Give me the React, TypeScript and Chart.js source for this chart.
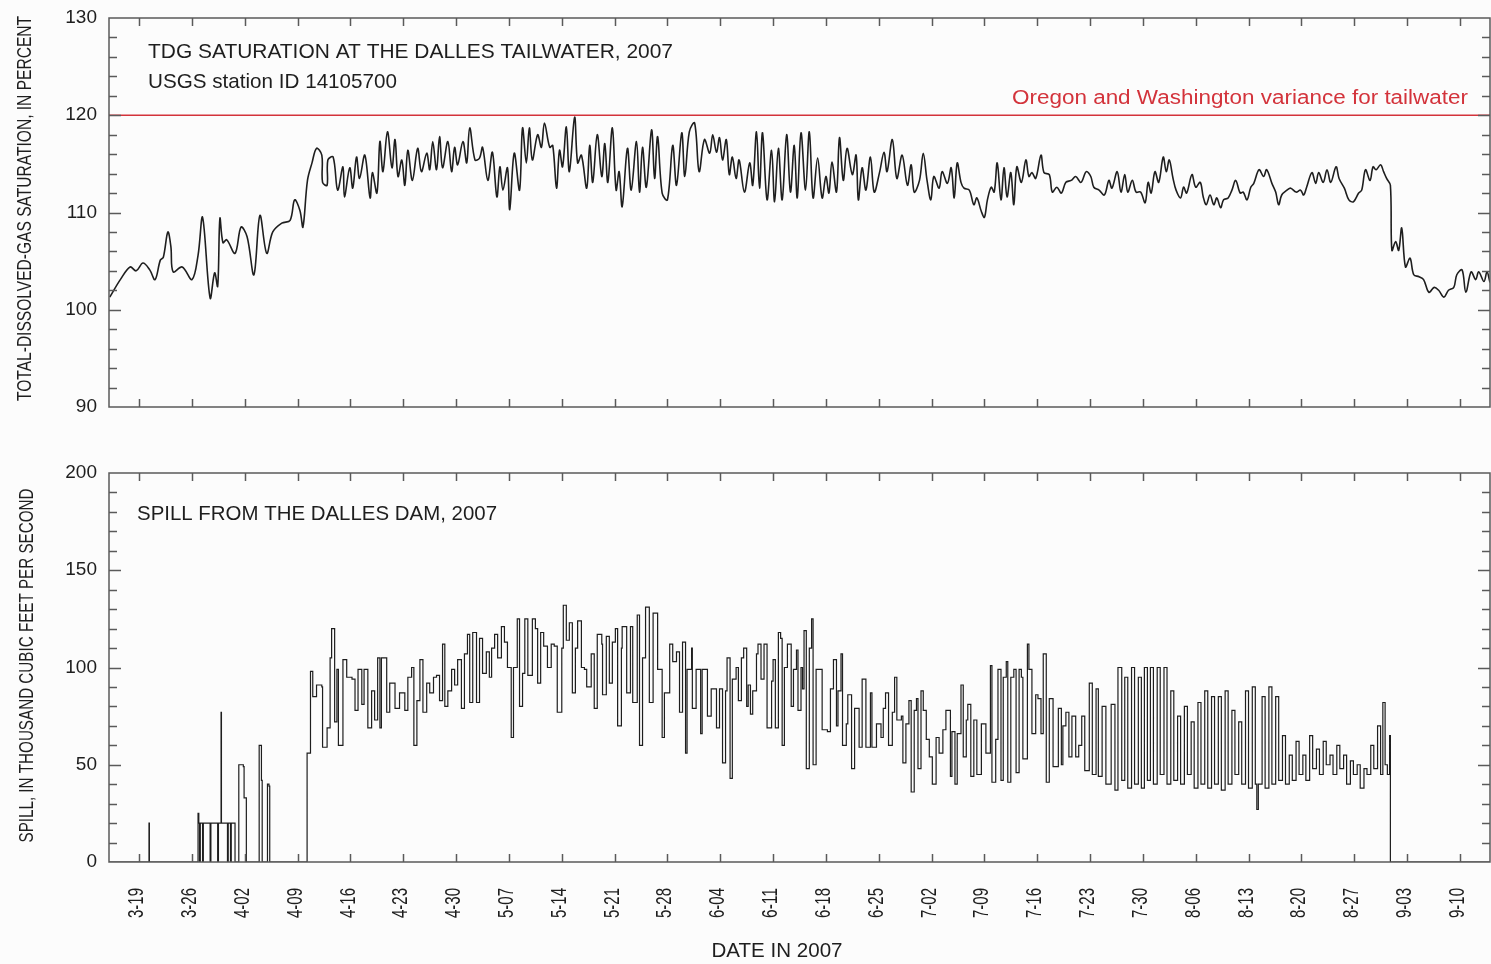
import { useEffect, useRef } from "react";
import { Chart, registerables } from "chart.js";

Chart.register(...registerables);

// ---------- DATA ----------
// x values are days after 2007-03-15 (0 = March 15)
const dateTickDays = [4, 11, 18, 25, 32, 39, 46, 53, 60, 67, 74, 81, 88, 95, 102, 109, 116, 123, 130, 137, 144, 151, 158, 165, 172, 179];
const dateTickLabels = ["3-19", "3-26", "4-02", "4-09", "4-16", "4-23", "4-30", "5-07", "5-14", "5-21", "5-28", "6-04", "6-11", "6-18", "6-25", "7-02", "7-09", "7-16", "7-23", "7-30", "8-06", "8-13", "8-20", "8-27", "9-03", "9-10"];
const dayMin = 0;
const dayMax = 183;

const tdgRange = [90, 130];
const tdgLabelStep = 10;
const tdgMinorStep = 2;
const spillRange = [0, 200];
const spillLabelStep = 50;
const spillMinorStep = 10;

const varianceLimit = 120;

// total-dissolved-gas saturation, percent: [day, value]
const tdgSeries: [number, number][] = [
  [0.1, 101.3], [1.5, 103.1], [2.8, 104.4], [3.6, 104.0], [4.5, 104.8], [5.4, 104.1], [6.1, 103.1], [6.8, 105.1], [7.2, 105.4], [7.8, 108.0], [8.2, 106.5], [8.5, 103.9],
  [9.7, 104.4], [11.0, 103.1], [11.8, 105.6], [12.4, 109.5], [13.4, 101.2], [14.0, 103.8], [14.4, 102.4], [14.7, 109.4], [15.1, 106.9], [15.6, 107.2],
  [16.7, 105.8], [17.5, 108.5], [18.3, 107.5], [19.2, 103.6], [20.0, 109.7], [20.9, 105.8], [21.7, 108.0], [22.9, 108.9], [24.0, 109.2], [24.6, 111.3],
  [25.3, 110.2], [25.7, 108.5], [26.3, 113.3], [26.9, 115.1], [27.5, 116.6], [28.2, 115.9], [28.3, 113.1], [28.9, 112.8], [29.0, 115.4], [29.7, 115.7],
  [30.3, 112.3], [31.0, 114.7], [31.2, 111.6], [31.9, 114.6], [32.3, 112.5], [32.8, 115.7], [33.2, 113.5], [33.9, 115.9], [34.6, 111.5], [34.9, 114.1],
  [35.5, 112.0], [35.9, 117.3], [36.3, 114.2], [36.9, 118.3], [37.5, 114.6], [37.9, 117.5], [38.3, 113.7], [38.8, 115.4], [39.2, 112.8], [39.6, 116.4],
  [40.2, 113.3], [40.9, 116.6], [41.4, 114.2], [42.1, 116.1], [42.5, 114.4], [42.9, 117.3], [43.4, 114.4], [43.8, 117.8], [44.2, 114.6], [44.9, 117.3],
  [45.4, 114.2], [45.8, 116.7], [46.2, 114.9], [46.9, 117.3], [47.4, 115.1], [47.8, 118.7], [48.5, 115.4], [49.1, 115.6], [49.5, 116.7], [50.2, 113.3],
  [50.8, 116.2], [51.4, 111.6], [51.8, 114.7], [52.2, 112.3], [52.8, 114.6], [53.1, 110.3], [53.7, 116.1], [54.4, 112.3], [54.8, 118.7], [55.3, 115.1],
  [55.7, 118.7], [56.1, 115.4], [56.8, 118.0], [57.3, 116.7], [57.7, 119.2], [58.4, 116.7], [58.8, 116.9], [59.3, 112.5], [59.7, 116.4], [60.1, 114.7],
  [60.6, 118.8], [61.0, 114.2], [61.7, 119.8], [62.1, 115.1], [62.6, 115.9], [63.3, 112.5], [63.7, 116.9], [64.1, 113.1], [64.7, 118.0], [65.3, 113.7],
  [65.7, 117.1], [66.1, 113.1], [66.7, 118.7], [67.2, 112.3], [67.6, 114.2], [68.0, 110.6], [68.7, 116.6], [69.2, 112.3], [69.9, 117.3], [70.3, 112.1],
  [70.7, 116.7], [71.2, 112.6], [71.9, 118.5], [72.3, 113.5], [72.7, 117.8], [73.3, 112.0], [74.0, 111.3], [74.7, 116.9], [75.2, 112.8], [75.9, 118.2],
  [76.3, 113.7], [76.9, 118.3], [77.6, 119.2], [78.2, 114.2], [78.9, 117.5], [79.6, 116.1], [80.0, 118.0], [80.5, 116.2], [80.9, 117.7], [81.3, 115.4],
  [81.8, 117.5], [82.2, 113.9], [82.6, 115.7], [83.1, 113.5], [83.5, 115.4], [84.2, 112.1], [84.9, 115.1], [85.3, 112.8], [85.8, 118.3], [86.2, 112.5],
  [86.6, 118.2], [87.2, 111.3], [87.8, 116.4], [88.2, 111.1], [88.7, 116.6], [89.2, 111.3], [89.8, 118.0], [90.3, 112.1], [90.8, 116.9], [91.2, 111.5],
  [91.7, 118.2], [92.3, 112.3], [92.8, 118.3], [93.3, 111.5], [93.9, 115.6], [94.5, 111.5], [95.0, 113.7], [95.4, 112.0], [95.8, 115.2], [96.4, 112.1],
  [96.8, 117.7], [97.3, 113.3], [97.8, 116.6], [98.5, 113.9], [99.0, 115.9], [99.3, 111.3], [99.8, 114.6], [100.3, 112.3], [100.9, 115.7], [101.4, 112.1],
  [102.1, 114.1], [102.7, 116.2], [103.1, 114.2], [103.8, 117.5], [104.4, 113.5], [105.1, 115.9], [105.8, 112.8], [106.3, 114.9], [106.7, 112.1], [107.4, 113.3],
  [107.9, 116.1], [108.4, 113.3], [108.9, 111.3], [109.3, 113.7], [110.0, 112.5], [110.4, 114.2], [111.1, 113.0], [111.6, 114.6], [112.0, 111.5], [112.4, 115.1],
  [112.9, 113.1], [113.3, 112.5], [114.0, 112.3], [114.6, 110.8], [115.0, 111.5], [115.6, 110.1], [116.0, 109.5], [116.4, 111.3], [116.9, 112.6], [117.3, 112.1],
  [117.7, 115.1], [118.2, 111.3], [118.6, 114.6], [119.0, 111.6], [119.5, 114.1], [119.9, 110.8], [120.3, 114.7], [120.9, 113.1], [121.5, 115.4], [121.9, 113.7],
  [122.3, 114.1], [122.8, 113.5], [123.5, 115.9], [123.9, 114.1], [124.6, 113.9], [125.0, 112.1], [125.6, 112.6], [126.2, 112.0], [126.8, 113.1], [127.5, 113.3],
  [128.1, 113.7], [128.8, 113.1], [129.5, 114.2], [130.1, 113.7], [130.5, 112.6], [131.2, 112.3], [131.9, 111.8], [132.5, 113.3], [132.9, 112.5], [133.6, 114.2],
  [134.1, 112.1], [134.6, 113.9], [135.0, 112.1], [135.6, 113.3], [136.1, 112.1], [136.7, 112.1], [137.3, 111.0], [137.7, 113.1], [138.1, 112.0], [138.6, 114.2],
  [139.1, 113.1], [139.7, 115.7], [140.1, 114.2], [140.5, 115.4], [141.0, 113.5], [141.4, 112.3], [142.0, 111.5], [142.4, 112.6], [142.8, 112.0], [143.5, 113.9],
  [144.0, 112.6], [144.6, 113.1], [145.0, 111.6], [145.4, 110.8], [145.9, 111.8], [146.4, 110.8], [146.8, 111.5], [147.3, 110.5], [147.7, 111.3], [148.3, 111.5],
  [148.8, 112.3], [149.3, 113.3], [149.9, 112.0], [150.3, 112.1], [150.8, 111.3], [151.3, 112.6], [151.7, 113.0], [152.4, 114.4], [153.0, 113.7], [153.4, 114.4],
  [154.1, 113.0], [154.6, 112.1], [155.0, 110.8], [155.4, 111.8], [156.1, 112.3], [156.6, 112.5], [157.3, 112.1], [157.9, 112.3], [158.3, 111.8], [158.7, 112.6],
  [159.4, 114.1], [159.9, 113.0], [160.3, 114.1], [160.9, 113.1], [161.4, 114.4], [161.9, 113.1], [162.6, 114.7], [163.0, 113.5], [163.7, 112.5], [164.3, 111.3],
  [164.9, 111.1], [165.6, 112.0], [166.0, 112.3], [166.5, 114.4], [167.1, 113.3], [167.5, 114.7], [167.9, 114.4], [168.5, 114.9], [168.9, 114.2], [169.3, 113.5],
  [169.8, 112.8], [170.0, 106.1], [170.5, 107.0], [170.9, 106.1], [171.3, 108.4], [171.8, 104.4], [172.4, 105.3], [172.9, 103.6], [173.6, 103.4], [174.2, 103.1],
  [174.9, 101.8], [175.6, 102.3], [176.2, 102.0], [176.9, 101.3], [177.5, 102.0], [178.2, 102.3], [178.6, 103.6], [179.3, 104.1], [179.8, 101.8], [180.5, 103.9],
  [181.1, 103.1], [181.5, 103.9], [182.2, 102.9], [182.6, 103.9], [183.0, 102.8],
];

// spill, thousand cubic feet per second: [day, value]
const spillSeries: [number, number][] = [
  [0, 0], [5.25, 0], [5.3, 20], [5.35, 0], [11.7, 0], [11.8, 25], [11.9, 20], [12.0, 0], [12.1, 20], [12.3, 20], [12.4, 0], [12.5, 20], [13.3, 20], [13.4, 0],
  [13.5, 20], [14.3, 20], [14.4, 0], [14.5, 20], [14.8, 20], [14.85, 77], [14.9, 20], [15.6, 20], [15.7, 0], [15.8, 20], [16.0, 20], [16.1, 0], [16.2, 20],
  [16.6, 20], [16.7, 0], [17.1, 0], [17.2, 50], [17.8, 49], [17.9, 33], [18.2, 0], [19.8, 0], [19.9, 60], [20.2, 42], [20.3, 0], [20.9, 0], [21.0, 40],
  [21.2, 39], [21.3, 0], [26.2, 0], [26.25, 56], [26.7, 98], [27.0, 85], [27.5, 91], [28.2, 90], [28.3, 59], [28.9, 69], [29.3, 105], [29.5, 120], [29.9, 72],
  [30.2, 99], [30.4, 60], [31.0, 104], [31.5, 95], [32.2, 94], [32.6, 78], [33.0, 99], [33.5, 81], [33.8, 99], [34.3, 69], [34.8, 88], [35.2, 73], [35.6, 105],
  [35.9, 69], [36.1, 105], [36.8, 77], [37.2, 92], [37.9, 79], [38.5, 87], [39.2, 78], [39.6, 95], [40.1, 100], [40.4, 60], [40.8, 83], [41.2, 104], [41.6, 77],
  [42.1, 92], [42.5, 87], [43.0, 95], [43.4, 96], [43.8, 83], [44.2, 112], [44.5, 80], [44.9, 88], [45.4, 99], [45.8, 91], [46.2, 104], [46.7, 79], [47.1, 107],
  [47.5, 117], [47.8, 82], [48.2, 118], [48.7, 82], [49.1, 115], [49.5, 97], [50.0, 108], [50.4, 95], [50.7, 110], [51.1, 117], [51.5, 105], [52.0, 121],
  [52.4, 113], [52.8, 100], [53.3, 64], [53.6, 100], [54.1, 125], [54.4, 80], [54.8, 97], [55.1, 125], [55.5, 96], [56.1, 125], [56.5, 120], [56.8, 92],
  [57.2, 118], [57.6, 111], [58.1, 100], [58.6, 112], [59.0, 111], [59.4, 77], [60.0, 110], [60.2, 132], [60.6, 114], [61.0, 123], [61.4, 87], [61.8, 110],
  [62.1, 124], [62.6, 100], [63.0, 99], [63.3, 90], [63.9, 107], [64.3, 79], [64.7, 117], [65.3, 112], [65.4, 86], [65.9, 116], [66.3, 92], [66.7, 113],
  [67.1, 120], [67.4, 70], [67.9, 110], [68.0, 121], [68.6, 87], [69.1, 121], [69.4, 82], [70.0, 127], [70.3, 60], [70.7, 105], [71.1, 131], [71.6, 82],
  [72.1, 128], [72.7, 99], [73.3, 64], [73.6, 87], [74.3, 112], [74.7, 103], [75.2, 108], [75.6, 77], [76.0, 113], [76.4, 56], [76.6, 99], [77.2, 110],
  [77.3, 79], [77.8, 99], [78.4, 66], [78.6, 99], [79.3, 75], [79.8, 89], [80.5, 69], [80.9, 89], [81.3, 51], [81.7, 88], [81.9, 105], [82.3, 43], [82.6, 94],
  [83.1, 100], [83.4, 83], [83.8, 105], [84.1, 110], [84.5, 80], [84.7, 91], [85.0, 76], [85.3, 88], [85.8, 107], [86.0, 112], [86.4, 94], [86.8, 112],
  [87.2, 69], [87.8, 93], [88.0, 104], [88.3, 69], [88.7, 118], [89.0, 115], [89.2, 60], [89.5, 100], [89.9, 112], [90.4, 80], [90.7, 99], [91.1, 109],
  [91.3, 78], [91.7, 100], [91.9, 89], [92.1, 119], [92.4, 48], [92.8, 110], [93.1, 125], [93.3, 50], [93.7, 99], [94.1, 99], [94.5, 68], [95.2, 67],
  [95.6, 89], [96.0, 104], [96.4, 70], [96.6, 88], [97.0, 107], [97.2, 60], [97.7, 71], [97.9, 86], [98.4, 48], [98.8, 79], [99.4, 59], [99.8, 94], [100.3, 59],
  [100.9, 87], [101.1, 59], [101.7, 71], [102.3, 64], [102.6, 79], [102.9, 87], [103.3, 60], [103.8, 77], [104.1, 95], [104.4, 73], [105.0, 75], [105.2, 51],
  [105.6, 71], [106.0, 83], [106.3, 36], [106.7, 78], [107.0, 84], [107.2, 48], [107.6, 88], [107.9, 78], [108.3, 63], [108.7, 54], [109.1, 40], [109.6, 64],
  [110.0, 56], [110.5, 68], [110.9, 78], [111.5, 44], [111.7, 67], [112.1, 40], [112.4, 66], [112.9, 91], [113.2, 54], [113.6, 73], [113.8, 81], [114.2, 44],
  [114.6, 73], [115.0, 45], [115.6, 71], [116.0, 71], [116.2, 56], [116.8, 101], [117.0, 41], [117.5, 63], [117.8, 99], [118.2, 42], [118.5, 95], [118.9, 103],
  [119.1, 41], [119.5, 95], [119.9, 99], [120.2, 46], [120.6, 99], [120.9, 95], [121.1, 53], [121.7, 112], [121.9, 99], [122.3, 66], [122.8, 86], [123.1, 84],
  [123.5, 66], [123.8, 107], [124.2, 41], [124.6, 84], [125.1, 49], [125.8, 79], [126.2, 50], [126.4, 70], [126.8, 77], [127.2, 54], [127.6, 75], [128.1, 54],
  [128.5, 60], [128.9, 75], [129.3, 47], [129.9, 92], [130.3, 45], [130.8, 89], [131.1, 44], [131.6, 80], [132.1, 40], [132.8, 81], [133.3, 37], [133.7, 100],
  [134.2, 42], [134.6, 95], [135.0, 38], [135.5, 100], [135.9, 40], [136.4, 95], [136.8, 38], [137.2, 100], [137.6, 42], [138.0, 100], [138.4, 40], [138.9, 100],
  [139.3, 45], [139.8, 100], [140.2, 40], [140.7, 88], [141.1, 42], [141.6, 75], [142.0, 40], [142.5, 80], [142.9, 45], [143.4, 72], [143.8, 38], [144.3, 82],
  [144.7, 40], [145.2, 88], [145.6, 38], [146.1, 85], [146.5, 40], [147.0, 85], [147.4, 37], [147.9, 88], [148.3, 40], [148.8, 78], [149.2, 45], [149.7, 72],
  [150.1, 40], [150.6, 88], [151.0, 38], [151.5, 90], [151.9, 40], [152.1, 27], [152.3, 40], [152.8, 85], [153.2, 38], [153.7, 90], [154.1, 40], [154.6, 85],
  [155.0, 42], [155.5, 65], [155.9, 40], [156.4, 55], [156.8, 42], [157.3, 62], [157.7, 45], [158.2, 55], [158.6, 42], [159.1, 65], [159.5, 48], [160.0, 58],
  [160.4, 45], [160.9, 62], [161.3, 50], [161.8, 55], [162.2, 45], [162.7, 60], [163.1, 48], [163.6, 55], [164.0, 40], [164.5, 52], [164.9, 45], [165.4, 50],
  [165.8, 38], [166.3, 48], [166.7, 45], [167.2, 60], [167.6, 48], [168.1, 70], [168.5, 45], [168.8, 82], [169.1, 50], [169.4, 45], [169.7, 65], [169.8, 0],
  [183, 0],
];

// ---------- STYLE ----------
const BG = "#fcfcfc";
const INK = "#1e1e1e";
const AXIS = "#5a5a5a";
const RED = "#d3333b";
const SANS = '"Liberation Sans", Arial, Helvetica, sans-serif';

type TextOpt = { size: number; color?: string; align?: CanvasTextAlign; width?: number; rotate?: boolean };

function drawText(ctx: CanvasRenderingContext2D, text: string, x: number, y: number, o: TextOpt) {
  ctx.save();
  ctx.translate(x, y);
  if (o.rotate) ctx.rotate(-Math.PI / 2);
  ctx.font = `${o.size}px ${SANS}`;
  const w = ctx.measureText(text).width;
  const s = o.width ? o.width / w : 1;
  ctx.scale(s, 1);
  ctx.fillStyle = o.color || INK;
  ctx.textAlign = o.align || "left";
  ctx.textBaseline = "middle";
  ctx.fillText(text, 0, 0);
  ctx.restore();
}

function makeFrame(minorStep: number, labelStep: number, decorate: (chart: any) => void) {
  return {
    id: "frame",
    afterDatasetsDraw(chart: any) {
      const { ctx, chartArea: a, scales } = chart;
      const x = scales.x;
      const y = scales.y;
      ctx.save();
      ctx.strokeStyle = AXIS;
      ctx.lineWidth = 1.5;
      ctx.strokeRect(a.left, a.top, a.right - a.left, a.bottom - a.top);
      ctx.beginPath();
      for (const d of dateTickDays) {
        const px = Math.round(x.getPixelForValue(d)) + 0.5;
        ctx.moveTo(px, a.bottom);
        ctx.lineTo(px, a.bottom - 8);
        ctx.moveTo(px, a.top);
        ctx.lineTo(px, a.top + 8);
      }
      const n = Math.round((y.max - y.min) / minorStep);
      const per = Math.round(labelStep / minorStep);
      for (let i = 1; i < n; i++) {
        const v = y.min + i * minorStep;
        const py = Math.round(y.getPixelForValue(v)) + 0.5;
        const len = i % per === 0 ? 12 : 8;
        ctx.moveTo(a.left, py);
        ctx.lineTo(a.left + len, py);
        ctx.moveTo(a.right, py);
        ctx.lineTo(a.right - len, py);
      }
      ctx.stroke();
      ctx.restore();
      decorate(chart);
    },
  };
}

function yScale(range: number[], step: number, width: number) {
  return {
    type: "linear" as const,
    min: range[0],
    max: range[1],
    grid: { display: false, drawTicks: false },
    border: { display: false },
    ticks: { stepSize: step, color: INK, padding: 12, font: { family: SANS, size: 19 } },
    afterFit: (s: any) => {
      s.width = width;
      s.paddingTop = 0;
      s.paddingBottom = 0;
    },
  };
}

function xScale(height: number) {
  return {
    type: "linear" as const,
    min: dayMin,
    max: dayMax,
    grid: { display: false, drawTicks: false },
    border: { display: false },
    ticks: { display: false },
    afterFit: (s: any) => {
      s.height = height;
      s.paddingLeft = 0;
      s.paddingRight = 0;
    },
  };
}

export default function App() {
  const topRef = useRef<HTMLCanvasElement>(null);
  const botRef = useRef<HTMLCanvasElement>(null);

  useEffect(() => {
    const topDecor = (chart: any) => {
      const { ctx, chartArea: a, scales } = chart;
      drawText(ctx, "TDG SATURATION AT THE DALLES TAILWATER, 2007", a.left + 39, a.top + 34, { size: 21, width: 525 });
      drawText(ctx, "USGS station ID 14105700", a.left + 39, a.top + 64, { size: 21, width: 249 });
      drawText(ctx, "Oregon and Washington variance for tailwater", a.right - 22, scales.y.getPixelForValue(varianceLimit) - 17, {
        size: 20,
        width: 456,
        color: RED,
        align: "right",
      });
      drawText(ctx, "TOTAL-DISSOLVED-GAS SATURATION, IN PERCENT", 25.5, (a.top + a.bottom) / 2 - 4, {
        size: 20,
        width: 385,
        rotate: true,
        align: "center",
      });
    };
    const botDecor = (chart: any) => {
      const { ctx, chartArea: a, scales } = chart;
      drawText(ctx, "SPILL FROM THE DALLES DAM, 2007", a.left + 28, a.top + 41, { size: 21, width: 360 });
      drawText(ctx, "SPILL, IN THOUSAND CUBIC FEET PER SECOND", 27.5, (a.top + a.bottom) / 2 - 2, {
        size: 20,
        width: 354,
        rotate: true,
        align: "center",
      });
      dateTickDays.forEach((d, i) => {
        const px = scales.x.getPixelForValue(d) - 2;
        drawText(ctx, dateTickLabels[i], px, a.bottom + 26, { size: 22, width: 30, rotate: true, align: "right" });
      });
      drawText(ctx, "DATE IN 2007", a.left + 668, a.bottom + 89, { size: 20, width: 131, align: "center" });
    };

    const top = new Chart(topRef.current!, {
      type: "line",
      data: {
        datasets: [
          {
            data: tdgSeries.map(([d, v]) => ({ x: d, y: v })),
            borderColor: INK,
            borderWidth: 1.6,
            pointRadius: 0,
            tension: 0.35,
          },
          {
            data: [
              { x: dayMin, y: varianceLimit },
              { x: dayMax, y: varianceLimit },
            ],
            borderColor: RED,
            borderWidth: 1.4,
            pointRadius: 0,
          },
        ],
      },
      options: {
        animation: false,
        responsive: false,
        events: [],
        layout: { padding: { top: 18, right: 1, left: 0, bottom: 0 } },
        plugins: { legend: { display: false }, tooltip: { enabled: false } },
        scales: { x: xScale(33), y: yScale(tdgRange, tdgLabelStep, 109) } as any,
      },
      plugins: [makeFrame(tdgMinorStep, tdgLabelStep, topDecor)],
    });

    const bot = new Chart(botRef.current!, {
      type: "line",
      data: {
        datasets: [
          {
            data: spillSeries.map(([d, v]) => ({ x: d, y: v })),
            borderColor: INK,
            borderWidth: 1.2,
            pointRadius: 0,
            stepped: true,
          },
        ],
      },
      options: {
        animation: false,
        responsive: false,
        events: [],
        layout: { padding: { top: 33, right: 1, left: 0, bottom: 0 } },
        plugins: { legend: { display: false }, tooltip: { enabled: false } },
        scales: { x: xScale(102), y: yScale(spillRange, spillLabelStep, 109) } as any,
      },
      plugins: [makeFrame(spillMinorStep, spillLabelStep, botDecor)],
    });

    return () => {
      top.destroy();
      bot.destroy();
    };
  }, []);

  return (
    <div style={{ position: "fixed", left: 0, top: 0, width: 1491, height: 964, background: BG, overflow: "hidden" }}>
      <canvas ref={topRef} width={1491} height={440} style={{ position: "absolute", left: 0, top: 0, display: "block" }} />
      <canvas ref={botRef} width={1491} height={524} style={{ position: "absolute", left: 0, top: 440, display: "block" }} />
    </div>
  );
}
